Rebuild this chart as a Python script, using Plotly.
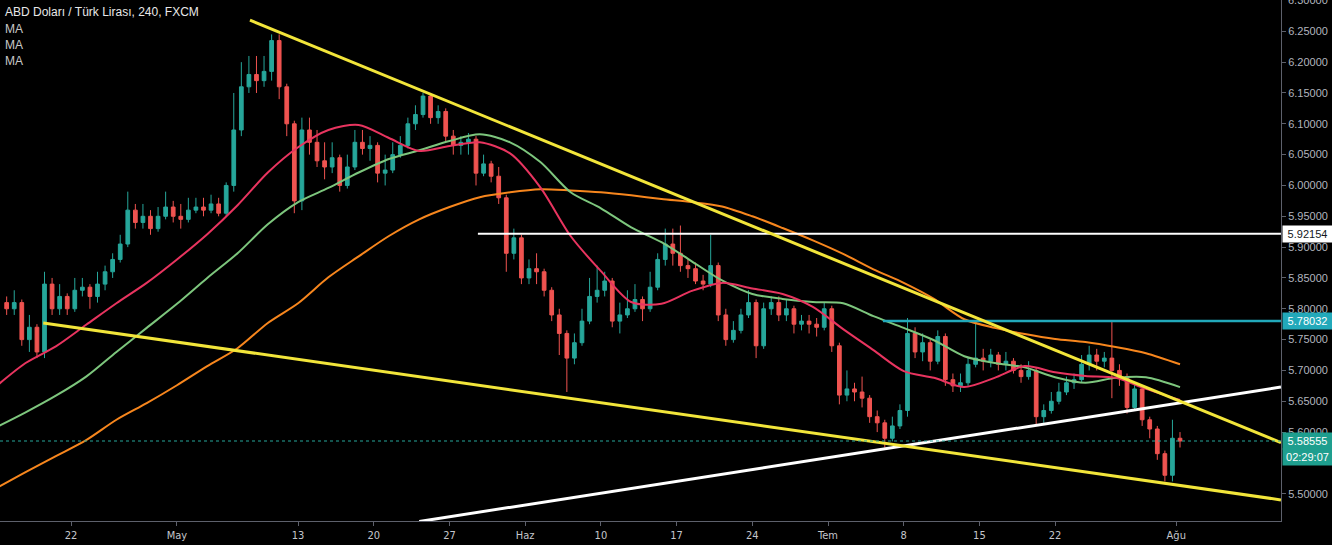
import pandas as pd
import plotly.graph_objects as go

# ---------------- data ----------------
first_open = 5.81
closes = [5.80, 5.81, 5.75, 5.77, 5.73, 5.84, 5.80, 5.82, 5.80, 5.83,
          5.835, 5.82, 5.84, 5.86, 5.88, 5.905, 5.96, 5.94, 5.95, 5.93,
          5.95, 5.965, 5.95, 5.945, 5.96, 5.965, 5.96, 5.97, 5.955, 6.00,
          6.09, 6.16, 6.18, 6.17, 6.185, 6.235, 6.16, 6.10, 5.975, 6.09,
          6.07, 6.04, 6.03, 6.045, 6.00, 6.03, 6.07, 6.06, 6.065, 6.02,
          6.025, 6.05, 6.065, 6.10, 6.115, 6.145, 6.11, 6.12, 6.08, 6.065,
          6.07, 6.075, 6.02, 6.035, 6.015, 5.98, 5.89, 5.915, 5.85, 5.865,
          5.86, 5.83, 5.79, 5.76, 5.72, 5.745, 5.78, 5.82, 5.83, 5.845,
          5.78, 5.79, 5.80, 5.815, 5.80, 5.835, 5.88, 5.905, 5.89, 5.87,
          5.865, 5.845, 5.84, 5.87, 5.79, 5.75, 5.765, 5.79, 5.81, 5.74,
          5.80, 5.81, 5.79, 5.80, 5.775, 5.78, 5.775, 5.77, 5.80, 5.74,
          5.66, 5.67, 5.665, 5.655, 5.625, 5.615, 5.59, 5.61, 5.635, 5.76,
          5.73, 5.745, 5.715, 5.755, 5.685, 5.675, 5.68, 5.71, 5.72, 5.715,
          5.725, 5.71, 5.715, 5.70, 5.69, 5.70, 5.625, 5.635, 5.65, 5.665,
          5.68, 5.685, 5.71, 5.725, 5.715, 5.72, 5.70, 5.69, 5.64, 5.67,
          5.62, 5.605, 5.565, 5.53, 5.59, 5.58555]
highs = [5.82, 5.83, 5.815, 5.79, 5.775, 5.86, 5.85, 5.84, 5.825, 5.85,
         5.85, 5.84, 5.86, 5.87, 5.89, 5.92, 5.99, 5.97, 5.97, 5.96,
         5.965, 5.99, 5.975, 5.97, 5.98, 5.98, 5.98, 5.985, 5.98, 6.005,
         6.15, 6.20, 6.21, 6.21, 6.21, 6.245, 6.245, 6.165, 6.105, 6.11,
         6.11, 6.09, 6.07, 6.07, 6.05, 6.05, 6.09, 6.09, 6.08, 6.07,
         6.05, 6.07, 6.08, 6.11, 6.13, 6.15, 6.15, 6.13, 6.125, 6.09,
         6.08, 6.085, 6.08, 6.05, 6.04, 6.03, 5.985, 5.93, 5.92, 5.88,
         5.89, 5.865, 5.835, 5.80, 5.765, 5.76, 5.80, 5.85, 5.87, 5.86,
         5.85, 5.81, 5.83, 5.84, 5.82, 5.86, 5.89, 5.93, 5.93, 5.935,
         5.88, 5.875, 5.855, 5.92, 5.875, 5.80, 5.78, 5.80, 5.83, 5.815,
         5.81, 5.82, 5.82, 5.815, 5.805, 5.79, 5.79, 5.785, 5.81, 5.805,
         5.745, 5.70, 5.68, 5.69, 5.66, 5.635, 5.62, 5.625, 5.645, 5.785,
         5.77, 5.76, 5.75, 5.765, 5.76, 5.695, 5.695, 5.72, 5.78, 5.735,
         5.735, 5.73, 5.73, 5.72, 5.71, 5.715, 5.705, 5.645, 5.665, 5.68,
         5.69, 5.695, 5.725, 5.74, 5.735, 5.73, 5.78, 5.71, 5.695, 5.68,
         5.675, 5.625, 5.61, 5.57, 5.62, 5.60]
lows = [5.79, 5.79, 5.74, 5.73, 5.72, 5.72, 5.79, 5.79, 5.79, 5.795,
        5.82, 5.80, 5.81, 5.83, 5.85, 5.875, 5.90, 5.93, 5.93, 5.92,
        5.925, 5.945, 5.94, 5.93, 5.94, 5.955, 5.95, 5.955, 5.95, 5.95,
        5.99, 6.08, 6.15, 6.15, 6.16, 6.17, 6.14, 6.08, 5.955, 5.96,
        6.05, 6.03, 6.01, 6.02, 5.99, 5.995, 6.025, 6.05, 6.04, 6.005,
        6.00, 6.02, 6.045, 6.06, 6.09, 6.11, 6.10, 6.10, 6.07, 6.05,
        6.05, 6.05, 6.00, 6.015, 6.005, 5.97, 5.86, 5.88, 5.84, 5.84,
        5.84, 5.82, 5.78, 5.725, 5.665, 5.71, 5.74, 5.775, 5.81, 5.82,
        5.77, 5.76, 5.785, 5.795, 5.78, 5.795, 5.83, 5.87, 5.87, 5.86,
        5.85, 5.84, 5.83, 5.835, 5.78, 5.74, 5.745, 5.76, 5.785, 5.72,
        5.735, 5.79, 5.78, 5.78, 5.76, 5.765, 5.76, 5.755, 5.765, 5.73,
        5.645, 5.65, 5.65, 5.64, 5.615, 5.60, 5.575, 5.585, 5.605, 5.625,
        5.72, 5.715, 5.70, 5.71, 5.675, 5.665, 5.665, 5.675, 5.705, 5.70,
        5.705, 5.70, 5.70, 5.695, 5.68, 5.685, 5.61, 5.615, 5.63, 5.645,
        5.66, 5.67, 5.68, 5.70, 5.70, 5.705, 5.655, 5.675, 5.63, 5.635,
        5.61, 5.59, 5.555, 5.52, 5.52, 5.575]
opens = [first_open] + closes[:-1]

# half-day bars (06:00 and 18:00) on trading days
trading_days = pd.bdate_range("2019-04-15", "2019-08-01")
bar_times = [d + pd.Timedelta(hours=h) for d in trading_days for h in (6, 18)][1:-1]

ma_dates = ["2019-04-15", "2019-04-17", "2019-04-19", "2019-04-23", "2019-04-25",
            "2019-04-29", "2019-05-01", "2019-05-03", "2019-05-07", "2019-05-09",
            "2019-05-13", "2019-05-15", "2019-05-17", "2019-05-21", "2019-05-23",
            "2019-05-27", "2019-05-29", "2019-05-31", "2019-06-04", "2019-06-06",
            "2019-06-10", "2019-06-12", "2019-06-14", "2019-06-18", "2019-06-20",
            "2019-06-24", "2019-06-26", "2019-06-28", "2019-07-02", "2019-07-04",
            "2019-07-08", "2019-07-10", "2019-07-12", "2019-07-16", "2019-07-18",
            "2019-07-22", "2019-07-24", "2019-07-26", "2019-07-30", "2019-08-01 06:00"]
ma_fast = [5.673, 5.712, 5.739, 5.774, 5.809, 5.842, 5.880, 5.921, 5.968, 6.021,
           6.062, 6.090, 6.098, 6.077, 6.056, 6.064, 6.070, 6.052, 5.997, 5.918,
           5.861, 5.811, 5.808, 5.829, 5.842, 5.833, 5.824, 5.803, 5.767, 5.733,
           5.699, 5.688, 5.673, 5.688, 5.707, 5.697, 5.691, 5.688, 5.670, 5.652]
ma_mid = [5.607, 5.632, 5.659, 5.690, 5.730, 5.769, 5.808, 5.850, 5.890, 5.937,
          5.973, 5.996, 6.021, 6.043, 6.057, 6.072, 6.083, 6.070, 6.038, 5.989,
          5.963, 5.932, 5.908, 5.877, 5.846, 5.824, 5.816, 5.811, 5.809, 5.788,
          5.769, 5.749, 5.723, 5.712, 5.705, 5.689, 5.680, 5.688, 5.689, 5.673]
ma_slow = [5.508, 5.535, 5.561, 5.587, 5.620, 5.647, 5.676, 5.707, 5.736, 5.777,
           5.809, 5.851, 5.885, 5.918, 5.945, 5.965, 5.981, 5.989, 5.994, 5.992,
           5.989, 5.984, 5.978, 5.973, 5.966, 5.950, 5.931, 5.911, 5.889, 5.864,
           5.842, 5.816, 5.783, 5.769, 5.759, 5.751, 5.746, 5.738, 5.728, 5.710]

# drawn trend lines (date, price end points); they run to the chart's right edge
upper_trend_x = ["2019-05-07 19:40", "2019-08-09 22:00"]
upper_trend_y = [6.268, 5.583]
lower_trend_x = ["2019-04-18 04:00", "2019-08-09 22:00"]
lower_trend_y = [5.777, 5.490]
rising_trend_x = ["2019-05-23", "2019-08-09 22:00"]
rising_trend_y = [5.455, 5.673]
resistance_x = ["2019-05-28 21:00", "2019-08-09 22:00"]
resistance_level = 5.92154
swing_x = ["2019-07-04 15:00", "2019-08-09 22:00"]
swing_level = 5.78032

tick_dates = ["2019-04-22", "2019-05-01", "2019-05-13", "2019-05-20", "2019-05-27",
              "2019-06-03", "2019-06-10", "2019-06-17", "2019-06-24", "2019-07-01",
              "2019-07-08", "2019-07-15", "2019-07-22", "2019-08-01"]
tick_labels = ["22", "May", "13", "20", "27", "Haz", "10", "17", "24", "Tem",
               "8", "15", "22", "Ağu"]
price_ticks = [6.25, 6.20, 6.15, 6.10, 6.05, 6.00, 5.95, 5.90, 5.85,
               5.80, 5.75, 5.70, 5.65, 5.60, 5.50]
top_price_tick = 6.30
countdown = "02:29:07"
title_text = "ABD Doları / Türk Lirası, 240, FXCM"

# ---------------- styling ----------------
UP = "#26A69A"
DOWN = "#EF5350"
AXIS = "#5D606B"
TXT = "#B2B5BE"
FONT = "Liberation Sans, Arial, sans-serif"

fig = go.Figure()
fig.add_trace(go.Candlestick(
    x=bar_times, open=opens, high=highs, low=lows, close=closes,
    increasing=dict(line=dict(color=UP, width=1), fillcolor=UP),
    decreasing=dict(line=dict(color=DOWN, width=1), fillcolor=DOWN),
    whiskerwidth=0, showlegend=False, hoverinfo="skip"))

for vals, col in [(ma_slow, "#F7861D"), (ma_mid, "#7DC67D"), (ma_fast, "#E8345F")]:
    fig.add_trace(go.Scatter(x=ma_dates, y=vals, mode="lines",
                             line=dict(color=col, width=2, shape="spline", smoothing=0.8),
                             showlegend=False, hoverinfo="skip"))

fig.add_trace(go.Scatter(x=resistance_x, y=[resistance_level] * 2, mode="lines",
                         line=dict(color="#FFFFFF", width=2), showlegend=False, hoverinfo="skip"))
fig.add_trace(go.Scatter(x=swing_x, y=[swing_level] * 2, mode="lines",
                         line=dict(color="#22A9BA", width=2.5), showlegend=False, hoverinfo="skip"))
fig.add_trace(go.Scatter(x=rising_trend_x, y=rising_trend_y, mode="lines",
                         line=dict(color="#FFFFFF", width=3), showlegend=False, hoverinfo="skip"))
fig.add_trace(go.Scatter(x=upper_trend_x, y=upper_trend_y, mode="lines",
                         line=dict(color="#F2E53A", width=3), showlegend=False, hoverinfo="skip"))
fig.add_trace(go.Scatter(x=lower_trend_x, y=lower_trend_y, mode="lines",
                         line=dict(color="#F2E53A", width=3), showlegend=False, hoverinfo="skip"))

last_price = closes[-1]
fig.add_hline(y=last_price, line=dict(color=UP, width=1, dash="dot"))

fig.update_layout(
    width=1332, height=545,
    margin=dict(l=0, r=51, t=0, b=24),
    paper_bgcolor="#000000", plot_bgcolor="#000000",
    showlegend=False,
    font=dict(family=FONT, color=TXT, size=11),
    xaxis=dict(
        type="date",
        range=["2019-04-15 07:26", "2019-08-09 22:05"],
        rangebreaks=[dict(bounds=["sat", "mon"])],
        tickmode="array", tickvals=tick_dates, ticktext=tick_labels,
        showgrid=False, zeroline=False, showline=True, linecolor=AXIS, linewidth=1,
        ticks="outside", ticklen=4, tickcolor=AXIS,
        tickfont=dict(family="DejaVu Sans Condensed, Liberation Sans Narrow, sans-serif",
                      size=11, color="#C4C6CC"),
        rangeslider=dict(visible=False), fixedrange=True),
    yaxis=dict(
        side="right", range=[5.4558, 6.3008],
        tickmode="array", tickvals=price_ticks,
        tickformat=".5f", showgrid=False, zeroline=False,
        showline=True, linecolor=AXIS, linewidth=1,
        ticks="outside", ticklen=4, tickcolor=AXIS,
        tickfont=dict(family=FONT, size=11, color=TXT), fixedrange=True),
)

# top price label, cut by the window edge as in the original
fig.add_annotation(xref="paper", yref="y", x=1, y=top_price_tick, xanchor="left",
                   yanchor="middle", xshift=5, text=f"{top_price_tick:.5f}",
                   showarrow=False, font=dict(family=FONT, size=11, color=TXT))

# legend-like title texts
fig.add_annotation(xref="paper", yref="paper", x=0, y=1, xanchor="left", yanchor="middle",
                   xshift=3, yshift=-12, text=title_text, showarrow=False,
                   font=dict(family=FONT, size=12, color="#E8E8E8"))
for i in range(3):
    fig.add_annotation(xref="paper", yref="paper", x=0, y=1, xanchor="left", yanchor="middle",
                       xshift=3, yshift=-29 - 16 * i, text="MA", showarrow=False,
                       font=dict(family=FONT, size=12, color="#C8C8C8"))

# price labels on the axis
def price_label(y, text, bg, fg, yshift=0):
    fig.add_annotation(xref="paper", yref="y", x=1, y=y, xanchor="left", yanchor="middle",
                       xshift=1, yshift=yshift, text=text, showarrow=False,
                       bgcolor=bg, width=47, height=14, borderpad=1,
                       font=dict(family=FONT, size=11, color=fg))

price_label(resistance_level, f"{resistance_level:.5f}", "#FFFFFF", "#131722")
price_label(swing_level, f"{swing_level:.5f}", "#22A9BA", "#FFFFFF")
price_label(last_price, f"{last_price:.5f}", "#1E9E8E", "#FFFFFF")
price_label(last_price, countdown, "#1E9E8E", "#FFFFFF", yshift=-16)

fig.write_html("out.html")
